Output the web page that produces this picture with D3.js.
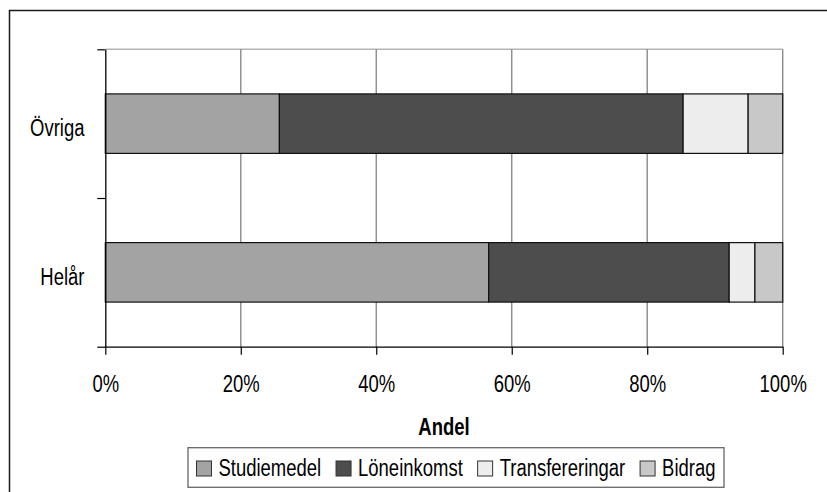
<!DOCTYPE html>
<html>
<head>
<meta charset="utf-8">
<script src="https://cdn.jsdelivr.net/npm/d3@7/dist/d3.min.js"></script>
<style>
  html, body { margin: 0; padding: 0; background: #fff; }
  svg { display: block; }
  text { font-family: "Liberation Sans", Arial, sans-serif; fill: #000; }
</style>
</head>
<body>
<svg id="chart" width="827" height="492"></svg>
<script>
// Shares of income sources per group (percent of total)
const categories = ["Övriga", "Helår"];
const seriesNames = ["Studiemedel", "Löneinkomst", "Transfereringar", "Bidrag"];
const studiemedel = [25.7, 56.6];
const loneinkomst = [59.6, 35.5];
const transfereringar = [9.6, 3.8];
const bidrag = [5.1, 4.1];
const tickValues = [0, 20, 40, 60, 80, 100];
const tickLabels = ["0%", "20%", "40%", "60%", "80%", "100%"];
const axisTitle = "Andel";

const seriesValues = [studiemedel, loneinkomst, transfereringar, bidrag];
const colors = ["#a3a3a3", "#4d4d4d", "#ededed", "#c8c8c8"];

const svg = d3.select("#chart");
const fontSize = 24;
const narrow = 0.77; // horizontal squeeze for a condensed look

// place a text at (x, y) with condensed width
const squeeze = (x, y) => `translate(${x},${y}) scale(${narrow},1)`;

// outer frame (continues past the right and bottom edges)
svg.append("rect")
  .attr("x", 9.5).attr("y", 10.5)
  .attr("width", 900).attr("height", 600)
  .attr("fill", "none").attr("stroke", "#1a1a1a").attr("stroke-width", 1.5);

const plot = { left: 105.3, right: 782.7, top: 49.3, bottom: 346.7 };

const x = d3.scaleLinear().domain([0, 100]).range([plot.left, plot.right]);
const y = d3.scaleBand().domain(categories)
  .range([plot.top, plot.bottom])
  .paddingInner(0.6).paddingOuter(0.3);
const yEdge = d3.scaleLinear().domain([0, categories.length]).range([plot.top, plot.bottom]);

// plot area top border
svg.append("line")
  .attr("x1", plot.left).attr("x2", plot.right)
  .attr("y1", plot.top).attr("y2", plot.top)
  .attr("stroke", "#b4b4b4").attr("stroke-width", 1.5);

// vertical gridlines
svg.append("g").selectAll("line")
  .data(tickValues.slice(1))
  .join("line")
  .attr("x1", d => x(d)).attr("x2", d => x(d))
  .attr("y1", plot.top).attr("y2", plot.bottom)
  .attr("stroke", "#8a8a8a").attr("stroke-width", 1.4);

// stacked bars
const rows = categories.map((c, i) => {
  let acc = 0;
  return seriesValues.map((vals, s) => {
    const seg = { cat: c, s, x0: acc, x1: acc + vals[i] };
    acc += vals[i];
    return seg;
  });
}).flat();

svg.append("g").selectAll("rect")
  .data(rows)
  .join("rect")
  .attr("x", d => x(d.x0))
  .attr("y", d => y(d.cat))
  .attr("width", d => x(d.x1) - x(d.x0))
  .attr("height", y.bandwidth())
  .attr("fill", d => colors[d.s])
  .attr("stroke", "#111")
  .attr("stroke-width", 1.2);

// x axis
const xAxis = svg.append("g")
  .attr("transform", `translate(0,${plot.bottom})`)
  .call(d3.axisBottom(x).tickValues(tickValues)
    .tickFormat((d, i) => tickLabels[i]).tickSize(8).tickSizeOuter(0));
xAxis.attr("font-family", null).attr("font-size", null);
xAxis.select(".domain").attr("stroke", "#000").attr("stroke-width", 1.3);
xAxis.selectAll(".tick line").attr("stroke", "#000").attr("stroke-width", 1.2);
xAxis.selectAll(".tick text")
  .attr("y", null).attr("dy", null)
  .attr("transform", squeeze(0, 45.3))
  .attr("font-size", fontSize);

// y axis: ticks at category boundaries
const yAxis = svg.append("g")
  .attr("transform", `translate(${plot.left},0)`)
  .call(d3.axisLeft(yEdge).tickValues(d3.range(categories.length + 1))
    .tickFormat("").tickSize(8).tickSizeOuter(0));
yAxis.select(".domain").attr("stroke", "#000").attr("stroke-width", 1.3);
yAxis.selectAll(".tick line").attr("stroke", "#000").attr("stroke-width", 1.2);

// category labels
svg.append("g").selectAll("text")
  .data(categories)
  .join("text")
  .attr("transform", d => squeeze(84.5, y(d) + y.bandwidth() / 2 + 12.8))
  .attr("text-anchor", "end")
  .attr("font-size", fontSize)
  .text(d => d);

// axis title
svg.append("text")
  .attr("transform", squeeze((plot.left + plot.right) / 2, 435))
  .attr("text-anchor", "middle")
  .attr("font-size", fontSize)
  .attr("font-weight", "bold")
  .text(axisTitle);

// legend: entries spread to fill a fixed-width box
const legend = svg.append("g");
const box = { left: 188, top: 447.7, width: 536, height: 39.6 };
const pad = 8.5, swatch = 15, swatchGap = 7;
const texts = seriesNames.map(name => legend.append("text")
  .attr("font-size", fontSize).text(name));
const widths = texts.map(t => t.node().getComputedTextLength() * narrow);
const itemGap = (box.width - 2 * pad - seriesNames.length * (swatch + swatchGap) - d3.sum(widths))
  / (seriesNames.length - 1);
legend.insert("rect", "text")
  .attr("x", box.left).attr("y", box.top)
  .attr("width", box.width).attr("height", box.height)
  .attr("fill", "#fff").attr("stroke", "#666").attr("stroke-width", 1.3);
let cursor = box.left + pad;
seriesNames.forEach((name, i) => {
  legend.append("rect")
    .attr("x", cursor).attr("y", 461)
    .attr("width", swatch).attr("height", swatch)
    .attr("fill", colors[i]).attr("stroke", "#333").attr("stroke-width", 1);
  texts[i].attr("transform", squeeze(cursor + swatch + swatchGap, 476));
  cursor += swatch + swatchGap + widths[i] + itemGap;
});
</script>
</body>
</html>
